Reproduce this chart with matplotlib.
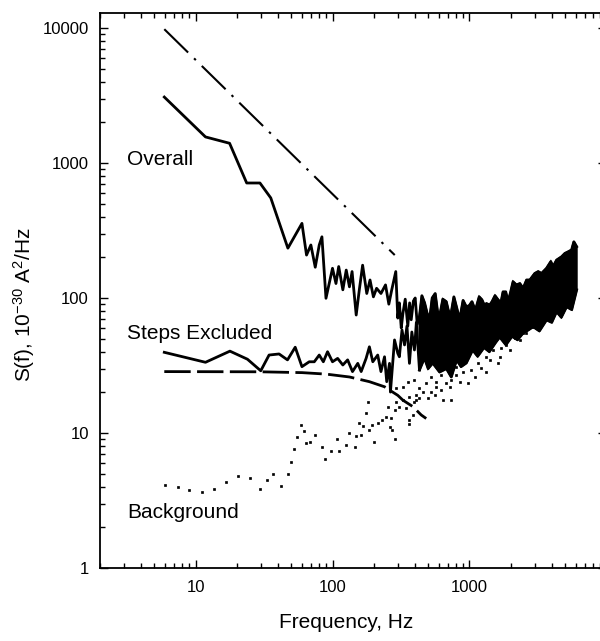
import numpy as np
import matplotlib
matplotlib.use('Agg')
import matplotlib.pyplot as plt

plt.rcParams['font.family'] = ['Liberation Sans', 'DejaVu Sans']
plt.rcParams['mathtext.fontset'] = 'custom'
plt.rcParams['mathtext.rm'] = 'Liberation Sans'
plt.rcParams['mathtext.it'] = 'Liberation Sans:italic'

# 1/f reference line (dash-dot)
ref_f = [5.9, 285]
ref_s = [9800, 208]

# Overall spectrum (solid), sparse part read point by point
overall_f = [5.9, 11.8, 17.7, 23.6, 29.5, 35.4, 47.2, 59.8, 64.6, 69.5, 74.8, 80, 83.7,
             89.6, 100, 106, 111, 119, 126, 133, 139, 149, 157, 166, 178, 188, 199, 210,
             226, 244, 258, 271, 290, 300, 308, 318, 327, 340, 355, 366, 376, 390, 402,
             416, 432, 450, 471, 490, 512, 535, 563, 585, 606, 640, 678, 700, 729, 771,
             810, 849, 900, 951, 1000, 1045, 1090, 1125, 1180, 1236, 1290, 1333, 1409,
             1465, 1540, 1621, 1700, 1762, 1845, 1918, 2000, 2086]
overall_s = [3080, 1560, 1400, 711, 711, 551, 234, 357, 208, 247, 169, 247, 284,
             99.5, 166, 128, 171, 115, 161, 121, 157, 74.8, 115, 175, 108, 136, 102, 118,
             108, 125, 90, 115, 157, 71, 92, 60, 77, 98, 62, 92, 69, 95, 100,
             64, 73, 104, 92, 78, 69, 100, 108, 80, 73, 98, 94, 82, 73, 102,
             84, 69, 96, 86, 88, 94, 84, 86, 102, 97, 88, 91, 88.7,
             94, 104, 97, 92, 111, 111, 94, 110, 132]

# dense part of the spectra: upper and lower edge of the black band
band_hi_f = [2208, 2339, 2472, 2620, 2767, 3006, 3184, 3367, 3664, 3936, 4093, 4339,
             4716, 4989, 5272, 5585, 5803, 6085]
band_hi_s = [125, 128, 118, 136, 136, 152, 157, 152, 166, 186, 171, 191,
             202, 214, 220, 227, 261, 240]
band_lo_f = [432, 470, 500, 540, 606, 680, 738, 807, 870, 950, 1057, 1150, 1280,
             1400, 1560, 1667, 1850, 2050, 2250, 2472, 2700, 2926, 3250, 3664, 4000,
             4339, 4700, 5137, 5600, 6085]
band_lo_s = [29.3, 36, 30, 33, 28.3, 30, 26, 34.8, 31, 33, 41.2, 37, 43,
             40, 47, 51.4, 45, 52, 49, 55.1, 58, 61.3, 57, 68.8, 66,
             79.2, 72, 86.2, 82, 115]

# Steps excluded spectrum (solid)
steps_f = [5.9, 11.8, 17.8, 23.9, 29.9, 34.4, 40.7, 46.9, 53.4, 59.8, 67.6, 73.6, 80,
           85.7, 92, 100, 109, 119, 129, 140, 153, 162, 176, 186, 197, 214, 226, 240,
           249, 261, 265, 284, 300, 308, 322, 336, 350, 365, 380, 397, 410, 432]
steps_s = [39.6, 33.4, 40.4, 35.2, 28.9, 37.8, 38.5, 34.8, 43.2, 31, 33.7, 33.7, 37.8,
           33.7, 40, 33.7, 35.7, 31.9, 34.8, 28.5, 32.8, 28.5, 35.7, 43.5, 33.7, 37.8, 28.5, 36.7,
           24, 32.8, 20.1, 48.9, 38.9, 36.7, 58, 44.9, 62, 32.8, 56, 41.2, 66, 29.3]

# Lorentzian fit (dashed)
fit_f = [5.9, 30, 60, 90, 133, 186, 240, 261, 300, 327, 386, 445, 484]
fit_s = [28.5, 28.4, 28.0, 27.3, 26.0, 24.0, 22.0, 20.8, 19.0, 17.5, 15.7, 13.6, 12.8]

# Background (dots)
bg_f = [6.0, 7.4, 9.0, 11.2, 13.7, 16.8, 20.5, 25, 29.4, 33, 37, 42, 47, 50, 52.5, 55,
        58.4, 61.8, 64, 68.4, 74.8, 83.8, 88, 98, 108, 112, 126, 131,
        145, 149, 162, 155, 166, 181, 176, 186, 195, 202, 214, 229, 247, 253, 261, 273,
        284, 268, 284, 292, 308, 326, 345, 365, 361, 386, 397, 409, 432, 457, 498, 527,
        557, 573, 624, 641, 679, 718, 738, 738, 804, 849, 898, 977, 1035, 1094, 1156,
        1225, 1333, 1409, 1489, 1622, 1714, 1866, 1972, 2147, 2339, 2472,
        261, 292, 326, 355, 397, 432, 484, 527, 573, 624, 679, 738, 804, 365, 409,
        1333, 1667, 2613, 2926]
bg_s = [4.14, 3.96, 3.8, 3.66, 3.87, 4.36, 4.78, 4.67, 3.83, 4.5, 4.94, 4.03, 5.0, 6.1, 7.6, 9.3,
        11.5, 10.3, 8.4, 8.6, 9.7, 7.9, 6.4, 7.4, 9.1, 7.4, 8.2, 9.95,
        7.9, 9.5, 9.7, 11.8, 11.3, 17.1, 14, 10.5, 11.5, 8.6, 11.8, 12.5, 13.2, 15.7, 11.1, 10.5,
        9.1, 12.9, 14.8, 17.1, 15.7, 17.5, 15.2, 12.5, 11.7, 13.6, 17.1, 19.1, 18.1, 20.2, 18.1, 20.2,
        19.1, 22, 20.8, 17.5, 23.3, 22, 17.5, 24.7, 26.9, 24, 28.5, 23.3, 29.3, 26.1, 32.8,
        30.1, 36.7, 34.7, 41.2, 32.8, 42.4, 44.9, 41.2, 50.3, 48.9, 54.8,
        23.3, 21.4, 22, 24, 24.7, 21.4, 23.3, 26.1, 24, 26.9, 30.1, 28.5, 31, 18.6, 17.5,
        28.5, 36.7, 54.8, 61.3]

fig = plt.figure(figsize=(6, 6.41), dpi=100)
ax = fig.add_axes([100 / 600, 73 / 641, 506.2 / 600, 554.7 / 641])
ax.set_xscale('log')
ax.set_yscale('log')
ax.set_xlim(2, 10000)
ax.set_ylim(1, 12850)

ax.plot(bg_f, bg_s, linestyle='none', marker='s', ms=2.0, color='k', mec='k', mew=0.5)

hi_f = [f for f in overall_f if f >= 432] + band_hi_f
hi_s = [s for f, s in zip(overall_f, overall_s) if f >= 432] + band_hi_s
ax.fill(np.concatenate([hi_f, band_lo_f[::-1]]), np.concatenate([hi_s, band_lo_s[::-1]]),
        color='k', lw=1.5)
ax.plot(overall_f + band_hi_f, overall_s + band_hi_s, color='k', lw=2)
ax.plot(band_lo_f, band_lo_s, color='k', lw=2)
ax.plot(steps_f, steps_s, color='k', lw=2)
ax.plot(fit_f, fit_s, color='k', lw=2, dashes=(9.5, 2.3))
ax.plot(ref_f, ref_s, color='k', lw=1.5, dashes=(16, 4, 1.2, 4))

ax.text(3.14, 966, 'Overall', fontsize=15, va='baseline')
ax.text(3.14, 49.4, 'Steps Excluded', fontsize=15, va='baseline')
ax.text(3.14, 2.33, 'Background', fontsize=15, va='baseline')

ax.set_xticks([10, 100, 1000])
ax.set_xticklabels(['10', '100', '1000'])
ax.set_yticks([1, 10, 100, 1000, 10000])
ax.set_yticklabels(['1', '10', '100', '1000', '10000'])
ax.tick_params(which='both', direction='in', top=True, right=True, width=1, labelsize=12)
ax.tick_params(which='major', length=6)
ax.tick_params(which='minor', length=3.5)
ax.tick_params(axis='x', pad=9)
ax.tick_params(axis='y', pad=8)
for sp in ax.spines.values():
    sp.set_linewidth(1.3)

ax.set_xlabel('Frequency, Hz', fontsize=15)
ax.set_ylabel(r'S(f), 10$^{-30}$ A$^2$/Hz', fontsize=15)
ax.xaxis.set_label_coords(0.486, -0.081)
ax.yaxis.set_label_coords(-0.1245, 0.474)

fig.savefig('out.png', dpi=100)
